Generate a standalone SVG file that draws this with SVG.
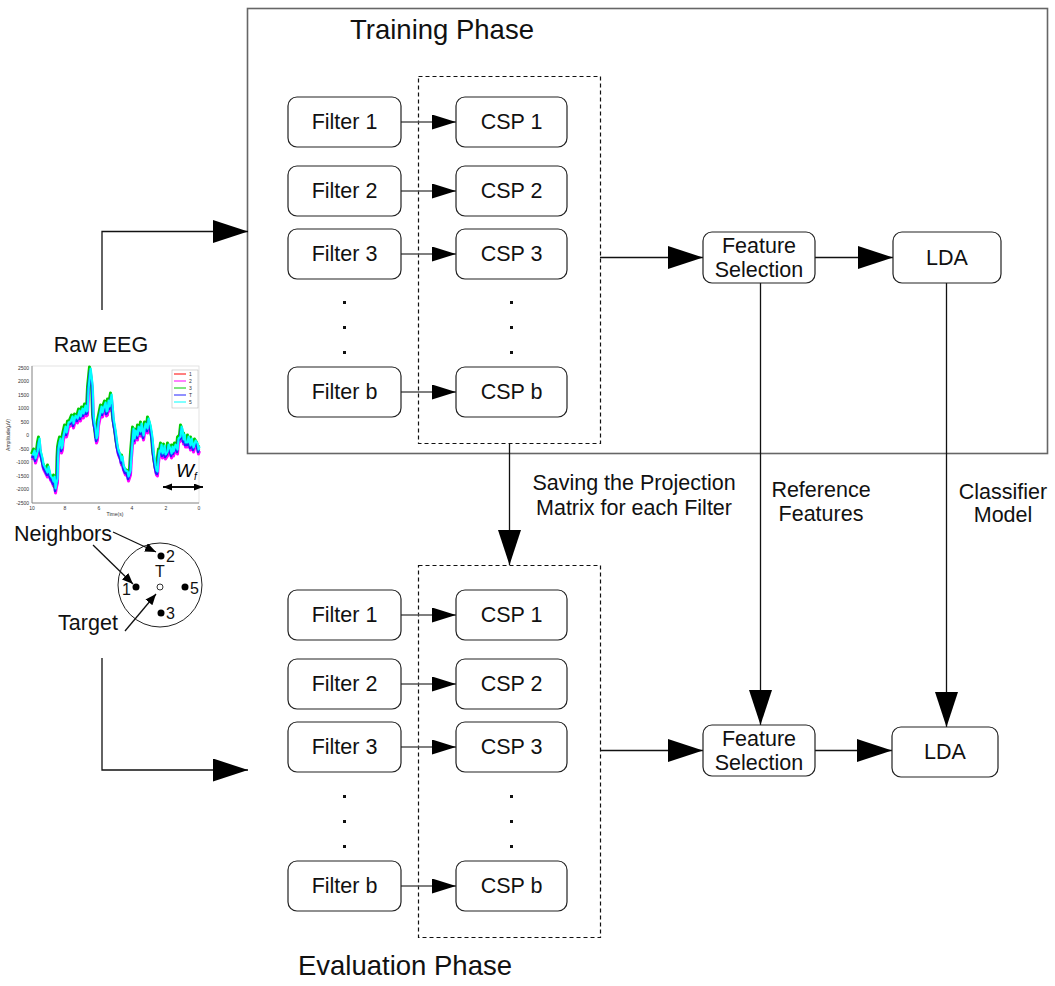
<svg xmlns="http://www.w3.org/2000/svg" width="1055" height="986" viewBox="0 0 1055 986">
<defs>
<style>
.box{fill:#fff;stroke:#222;stroke-width:1.2}
.dash{fill:none;stroke:#111;stroke-width:1.2;stroke-dasharray:4 3}
.t{font-family:"Liberation Sans",Arial,sans-serif;font-size:21.5px;fill:#111;text-anchor:middle;dominant-baseline:central}
.big{font-family:"Liberation Sans",Arial,sans-serif;font-size:27.5px;fill:#111;text-anchor:middle;dominant-baseline:central}
.ln{fill:none;stroke:#111;stroke-width:1.3}
.lg{fill:none;stroke:#555;stroke-width:1.3}
.ax{font-family:"Liberation Sans",Arial,sans-serif;font-size:5px;fill:#333}
.dot{fill:#111}
</style>
<marker id="sm" markerUnits="userSpaceOnUse" markerWidth="25" markerHeight="16" refX="24" refY="7.5" orient="auto"><path d="M0,0 L24,7.5 L0,15 z" fill="#000"/></marker>
<marker id="bg" markerUnits="userSpaceOnUse" markerWidth="36" markerHeight="24" refX="35" refY="11.5" orient="auto"><path d="M0,0 L35,11.5 L0,23 z" fill="#000"/></marker>
<marker id="tn" markerUnits="userSpaceOnUse" markerWidth="12" markerHeight="10" refX="11" refY="4.5" orient="auto"><path d="M0,0 L11,4.5 L0,9 z" fill="#000"/></marker>
<marker id="dh" markerUnits="userSpaceOnUse" markerWidth="10" markerHeight="8" refX="9" refY="3.5" orient="auto"><path d="M0,0 L9,3.5 L0,7 z" fill="#000"/></marker>
<polyline id="sig" points="32,457 34,452 35,460 37,453 38,445 39,440 40,452 42,460 43,466 45,470 47,474 48,468 50,477 52,480 53,483 54,478 55,490 56,484 57,480 57.5,460 58,450 59,444 60,440 61,450 62,447 62.5,440 63,437 65,428 66,434 67,430 68,424 70,423 72,418 73,425 75,417 77,420 79,412 80,418 82,410 83,415 85,407 86,413 87,412 88,390 89,380 90,370 91,378 92,387 93,417 94,425 95,430 96,440 97,437 98,423 99,418 100,413 101,408 102,414 103,410 105,404 106,413 107,412 108,402 109,408 110,402 111,396 112,407 113,420 115,432 116,440 117,447 118,452 120,457 121,462 122,458 123,467 125,472 127,473 128,478 130,472 131,455 132,443 133,430 134,440 135,432 137,437 138,428 140,433 141,425 143,437 145,425 147,430 148,420 150,427 151,433 152,440 153,453 154,460 155,467 156,472 157,473 158,460 159,452 160,453 161,446 162,455 163,453 164,447 165,456 167,453 168,446 170,451 171,455 172,448 173,453 175,446 177,451 178,440 180,438 181,428 182,431 183,441 184,436 185,444 187,444 188,438 190,447 191,440 193,449 195,442 197,445 198,451 199,448"/>
</defs>

<g id="training-phase">
<rect x="247.5" y="8.5" width="800" height="445" fill="none" stroke="#666" stroke-width="1.6"/>
<text class="big" x="442" y="29">Training Phase</text>
</g>
<g id="evaluation-label"><text class="big" x="405" y="965">Evaluation Phase</text></g>

<g id="csp-group-train"><rect class="dash" x="418.5" y="76.5" width="182" height="367"/></g>
<g id="csp-group-eval"><rect class="dash" x="418.5" y="565.5" width="182" height="372"/></g>

<g id="connectors">
<polyline class="ln" points="102,310 102,231.5 248,231.5" marker-end="url(#bg)"/>
<polyline class="ln" points="102,658 102,770 248,770" marker-end="url(#bg)"/>
<line class="lg" x1="401" y1="122" x2="456" y2="122" marker-end="url(#sm)"/>
<line class="lg" x1="401" y1="191" x2="456" y2="191" marker-end="url(#sm)"/>
<line class="lg" x1="401" y1="254" x2="456" y2="254" marker-end="url(#sm)"/>
<line class="lg" x1="401" y1="392" x2="456" y2="392" marker-end="url(#sm)"/>
<line class="lg" x1="401" y1="615" x2="456" y2="615" marker-end="url(#sm)"/>
<line class="lg" x1="401" y1="684" x2="456" y2="684" marker-end="url(#sm)"/>
<line class="lg" x1="401" y1="747" x2="456" y2="747" marker-end="url(#sm)"/>
<line class="lg" x1="401" y1="886" x2="456" y2="886" marker-end="url(#sm)"/>
<line class="ln" x1="600" y1="257.5" x2="703" y2="257.5" marker-end="url(#bg)"/>
<line class="ln" x1="815" y1="257.5" x2="893" y2="257.5" marker-end="url(#bg)"/>
<line class="ln" x1="600" y1="750.5" x2="703" y2="750.5" marker-end="url(#bg)"/>
<line class="ln" x1="815" y1="750.5" x2="892" y2="750.5" marker-end="url(#bg)"/>
<line class="ln" x1="509.5" y1="444" x2="509.5" y2="565" marker-end="url(#bg)"/>
<line class="ln" x1="760.5" y1="283" x2="760.5" y2="725" marker-end="url(#bg)"/>
<line class="ln" x1="946.5" y1="283" x2="946.5" y2="727" marker-end="url(#bg)"/>
</g>

<g id="connector-labels">
<text class="t" x="634" y="483">Saving the Projection</text>
<text class="t" x="634" y="508">Matrix for each Filter</text>
<text class="t" x="821" y="490">Reference</text>
<text class="t" x="821" y="514">Features</text>
<text class="t" x="1003" y="492">Classifier</text>
<text class="t" x="1003" y="515">Model</text>
</g>

<g id="filter1-train"><rect class="box" x="288" y="97" width="113" height="50" rx="9"/><text class="t" x="344.5" y="122">Filter 1</text></g>
<g id="filter2-train"><rect class="box" x="288" y="166" width="113" height="50" rx="9"/><text class="t" x="344.5" y="191">Filter 2</text></g>
<g id="filter3-train"><rect class="box" x="288" y="229" width="113" height="50" rx="9"/><text class="t" x="344.5" y="254">Filter 3</text></g>
<g id="filterb-train"><rect class="box" x="288" y="367" width="113" height="50" rx="9"/><text class="t" x="344.5" y="392">Filter b</text></g>
<g id="csp1-train"><rect class="box" x="456" y="97" width="111" height="50" rx="9"/><text class="t" x="511.5" y="122">CSP 1</text></g>
<g id="csp2-train"><rect class="box" x="456" y="166" width="111" height="50" rx="9"/><text class="t" x="511.5" y="191">CSP 2</text></g>
<g id="csp3-train"><rect class="box" x="456" y="229" width="111" height="50" rx="9"/><text class="t" x="511.5" y="254">CSP 3</text></g>
<g id="cspb-train"><rect class="box" x="456" y="367" width="111" height="50" rx="9"/><text class="t" x="511.5" y="392">CSP b</text></g>
<g id="dots-train">
<rect class="dot" x="343" y="301" width="3" height="3"/><rect class="dot" x="343" y="326" width="3" height="3"/><rect class="dot" x="343" y="351" width="3" height="3"/>
<rect class="dot" x="510" y="301" width="3" height="3"/><rect class="dot" x="510" y="326" width="3" height="3"/><rect class="dot" x="510" y="351" width="3" height="3"/>
</g>
<g id="fs-train"><rect class="box" x="703" y="232" width="112" height="51" rx="9"/><text class="t" x="759" y="246">Feature</text><text class="t" x="759" y="270">Selection</text></g>
<g id="lda-train"><rect class="box" x="893" y="232" width="108" height="51" rx="9"/><text class="t" x="947" y="257.5">LDA</text></g>

<g id="filter1-eval"><rect class="box" x="288" y="590" width="113" height="50" rx="9"/><text class="t" x="344.5" y="615">Filter 1</text></g>
<g id="filter2-eval"><rect class="box" x="288" y="659" width="113" height="50" rx="9"/><text class="t" x="344.5" y="684">Filter 2</text></g>
<g id="filter3-eval"><rect class="box" x="288" y="722" width="113" height="50" rx="9"/><text class="t" x="344.5" y="747">Filter 3</text></g>
<g id="filterb-eval"><rect class="box" x="288" y="861" width="113" height="50" rx="9"/><text class="t" x="344.5" y="886">Filter b</text></g>
<g id="csp1-eval"><rect class="box" x="456" y="590" width="111" height="50" rx="9"/><text class="t" x="511.5" y="615">CSP 1</text></g>
<g id="csp2-eval"><rect class="box" x="456" y="659" width="111" height="50" rx="9"/><text class="t" x="511.5" y="684">CSP 2</text></g>
<g id="csp3-eval"><rect class="box" x="456" y="722" width="111" height="50" rx="9"/><text class="t" x="511.5" y="747">CSP 3</text></g>
<g id="cspb-eval"><rect class="box" x="456" y="861" width="111" height="50" rx="9"/><text class="t" x="511.5" y="886">CSP b</text></g>
<g id="dots-eval">
<rect class="dot" x="343" y="795" width="3" height="3"/><rect class="dot" x="343" y="820" width="3" height="3"/><rect class="dot" x="343" y="845" width="3" height="3"/>
<rect class="dot" x="510" y="795" width="3" height="3"/><rect class="dot" x="510" y="820" width="3" height="3"/><rect class="dot" x="510" y="845" width="3" height="3"/>
</g>
<g id="fs-eval"><rect class="box" x="703" y="725" width="112" height="51" rx="9"/><text class="t" x="759" y="739">Feature</text><text class="t" x="759" y="763">Selection</text></g>
<g id="lda-eval"><rect class="box" x="892" y="727" width="106" height="50" rx="9"/><text class="t" x="945" y="752">LDA</text></g>

<g id="raw-eeg">
<text class="t" x="101" y="345">Raw EEG</text>
<rect x="32" y="366" width="167" height="137" fill="none" stroke="#ddd" stroke-width="0.8"/>
<polyline fill="none" stroke="#777" stroke-width="0.8" points="32,366 32,503 199,503"/>
<g class="ax" text-anchor="end">
<text x="29" y="370">2500</text><text x="29" y="383">2000</text><text x="29" y="397">1500</text><text x="29" y="410">1000</text><text x="29" y="424">500</text><text x="29" y="437">0</text><text x="29" y="451">-500</text><text x="29" y="464">-1000</text><text x="29" y="478">-1500</text><text x="29" y="491">-2000</text><text x="29" y="505">-2500</text>
</g>
<g class="ax" text-anchor="middle">
<text x="32" y="510">10</text><text x="65" y="510">8</text><text x="99" y="510">6</text><text x="132" y="510">4</text><text x="166" y="510">2</text><text x="199" y="510">0</text>
<text x="115" y="516">Time(s)</text>
<text transform="translate(10,435) rotate(-90)">Amplitude(μV)</text>
</g>
<g fill="none" stroke-linejoin="round">
<use href="#sig" stroke="#ff00ff" stroke-width="3" transform="translate(0.5,3)"/>
<use href="#sig" stroke="#00cc00" stroke-width="3" transform="translate(-0.5,-3)"/>
<use href="#sig" stroke="#2222ff" stroke-width="2.5" transform="translate(0,1)"/>
<use href="#sig" stroke="#00ffff" stroke-width="2.2" transform="translate(0.6,-1.5)"/>
</g>
<rect x="172" y="370" width="26" height="38" fill="#fff" stroke="#bbb" stroke-width="0.6"/>
<g stroke-width="1">
<line x1="174" y1="374" x2="186" y2="374" stroke="#ff0000"/>
<line x1="174" y1="381" x2="186" y2="381" stroke="#ff00ff"/>
<line x1="174" y1="388" x2="186" y2="388" stroke="#00cc00"/>
<line x1="174" y1="395" x2="186" y2="395" stroke="#2222ff"/>
<line x1="174" y1="402" x2="186" y2="402" stroke="#00ffff"/>
</g>
<g class="ax"><text x="189" y="376">1</text><text x="189" y="383">2</text><text x="189" y="390">3</text><text x="189" y="397">T</text><text x="189" y="404">5</text></g>
<text x="176" y="477" font-family="Liberation Sans,Arial,sans-serif" font-size="19" font-style="italic" fill="#000">W<tspan font-size="10" dy="3">f</tspan></text>
<line x1="163" y1="487" x2="203" y2="487" stroke="#000" stroke-width="1.3" marker-end="url(#dh)"/>
<line x1="203" y1="487" x2="163" y2="487" stroke="#000" stroke-width="1.3" marker-end="url(#dh)"/>
</g>

<g id="electrodes">
<circle cx="160" cy="585" r="42" fill="none" stroke="#222" stroke-width="1"/>
<circle cx="161" cy="556" r="3.5" fill="#000"/>
<circle cx="136" cy="587" r="3.5" fill="#000"/>
<circle cx="185" cy="587" r="3.5" fill="#000"/>
<circle cx="161" cy="613" r="3.5" fill="#000"/>
<circle cx="160" cy="587" r="3" fill="#fff" stroke="#000" stroke-width="0.8"/>
<g font-family="Liberation Sans,Arial,sans-serif" font-size="16" fill="#111" dominant-baseline="central">
<text x="166" y="556">2</text><text x="122" y="589">1</text><text x="190" y="588">5</text><text x="166" y="613">3</text><text x="155" y="571">T</text>
</g>
<text class="t" x="63" y="534">Neighbors</text>
<text class="t" x="88" y="623">Target</text>
<line class="ln" x1="113" y1="532" x2="156" y2="552" marker-end="url(#tn)"/>
<line class="ln" x1="93" y1="545" x2="133" y2="584" marker-end="url(#tn)"/>
<line class="ln" x1="125" y1="631" x2="156" y2="594" marker-end="url(#tn)"/>
</g>
</svg>
